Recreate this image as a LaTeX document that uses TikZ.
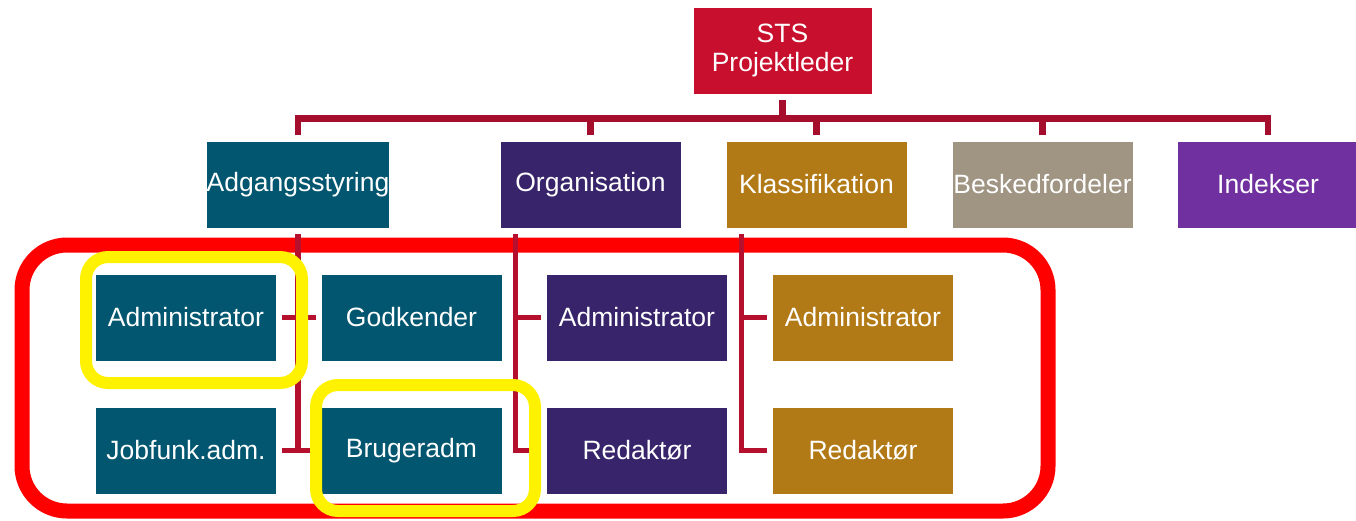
\documentclass[tikz,border=0pt]{standalone}
\usepackage{fontspec}
\setmainfont{Liberation Sans}
\definecolor{stsred}{HTML}{C8102E}
\definecolor{teal}{HTML}{02566F}
\definecolor{orgpurple}{HTML}{38246A}
\definecolor{ochre}{HTML}{B27A16}
\definecolor{greybrown}{HTML}{A09482}
\definecolor{violet}{HTML}{7030A0}
\definecolor{connA}{HTML}{A50E2D}
\definecolor{connB}{HTML}{B5112F}
\tikzset{
  box/.style={rectangle, minimum width=181pt, minimum height=87pt, inner sep=0pt,
    text=white, font=\fontsize{26.5}{29}\selectfont, draw=white, line width=0.6pt, align=center},
  connone/.style={draw=connA, line width=6.5pt, shorten <=6pt, shorten >=6pt},
  conntwo/.style={draw=connB, line width=5.5pt, shorten <=6pt, shorten >=5pt},
  redframe/.style={draw=red, line width=15pt, rounded corners=45pt},
  yellowframe/.style={draw=yellow, line width=12pt, rounded corners=22pt}
}
\begin{document}
\begin{tikzpicture}[x=1pt,y=-1pt]
\clip (0,0) rectangle (1356,520);
\fill[white] (0,0) rectangle (1356,520);
% red highlight frame
\draw[redframe] (22,245) rectangle (1048,511);
% nodes
\node[box, fill=stsred, minimum width=179pt] (sts) at (782.5,50.5) {STS\\Projektleder};
\node[box, fill=teal] (adg) at (298,184.5) {Adgangsstyring};
\node[box, fill=orgpurple] (org) at (590.5,184.5) {Organisation};
\node[box, fill=ochre] (kla) at (816.5,184.5) {Klassifikation};
\node[box, fill=greybrown] (bes) at (1042.5,184.5) {Beskedfordeler};
\node[box, fill=violet] (ind) at (1268,184.5) {Indekser};
\node[box, fill=teal] (admA) at (186,317.5) {Administrator};
\node[box, fill=teal] (godk) at (411.5,317.5) {Godkender};
\node[box, fill=teal] (job) at (186,450.5) {Jobfunk.adm.};
\node[box, fill=teal] (brug) at (411.5,450.5) {Brugeradm};
\node[box, fill=orgpurple] (admO) at (637,317.5) {Administrator};
\node[box, fill=orgpurple] (redO) at (637,450.5) {Redaktør};
\node[box, fill=ochre] (admK) at (863,317.5) {Administrator};
\node[box, fill=ochre] (redK) at (863,450.5) {Redaktør};
% level 1 connectors
\foreach \c in {adg,org,kla,bes,ind}
  \draw[connone] (sts.south) -- +(0,24) -| (\c.north);
% level 2 connectors
\draw[conntwo] (adg.south) |- (admA.east);
\draw[conntwo] (adg.south) |- (godk.west);
\draw[conntwo] (adg.south) |- (job.east);
\draw[conntwo] (adg.south) |- (brug.west);
\draw[conntwo] ([xshift=16pt]org.south west) |- (admO.west);
\draw[conntwo] ([xshift=16pt]org.south west) |- (redO.west);
\draw[conntwo] ([xshift=16pt]kla.south west) |- (admK.west);
\draw[conntwo] ([xshift=16pt]kla.south west) |- (redK.west);
% yellow highlights
\draw[yellowframe] (86,257) rectangle (302,383);
\draw[yellowframe] (316,385) rectangle (535,511);
\end{tikzpicture}
\end{document}
